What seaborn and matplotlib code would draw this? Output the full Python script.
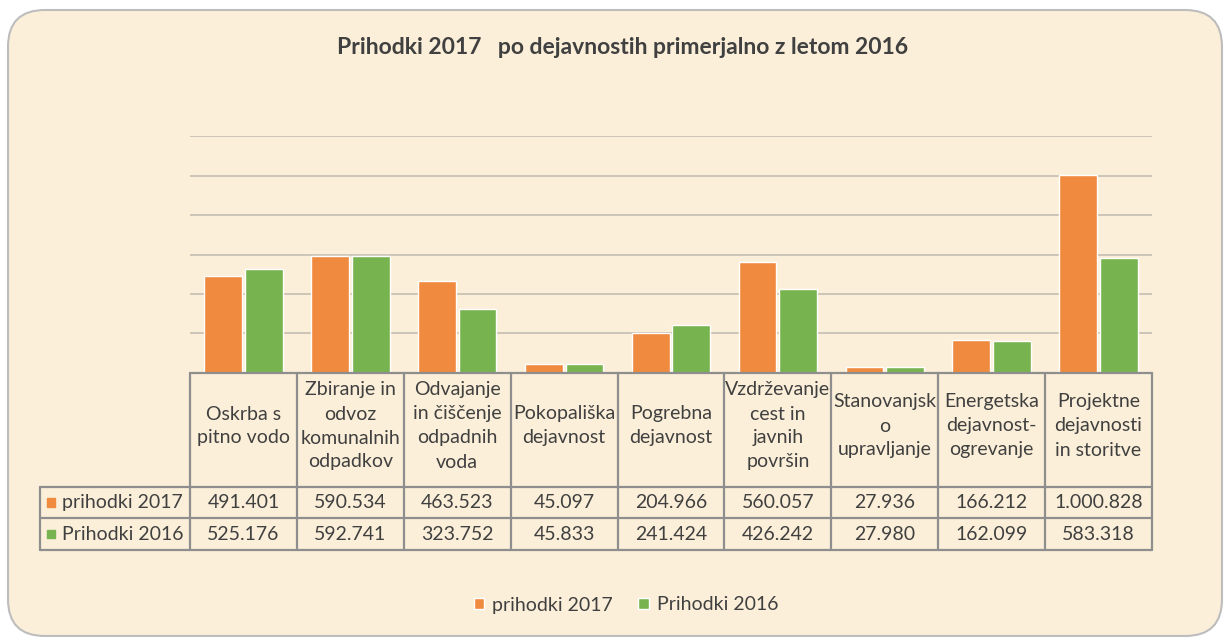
import numpy as np
import pandas as pd
import matplotlib
matplotlib.use("Agg")
import matplotlib.pyplot as plt
import seaborn as sns
from matplotlib.patches import FancyBboxPatch, Rectangle
from matplotlib.lines import Line2D
from matplotlib.transforms import blended_transform_factory

# ---------------- data ----------------
categories = [
    "Oskrba s\npitno vodo",
    "Zbiranje in\nodvoz\nkomunalnih\nodpadkov",
    "Odvajanje\nin čiščenje\nodpadnih\nvoda",
    "Pokopališka\ndejavnost",
    "Pogrebna\ndejavnost",
    "Vzdrževanje\ncest in\njavnih\npovršin",
    "Stanovanjsk\no\nupravljanje",
    "Energetska\ndejavnost-\nogrevanje",
    "Projektne\ndejavnosti\nin storitve",
]
series_names = ["prihodki 2017", "Prihodki 2016"]
values_2017 = [491401, 590534, 463523, 45097, 204966, 560057, 27936, 166212, 1000828]
values_2016 = [525176, 592741, 323752, 45833, 241424, 426242, 27980, 162099, 583318]
title = "Prihodki 2017   po dejavnostih primerjalno z letom 2016"

colors = ["#EF8A3F", "#77B450"]
text_color = "#404040"
bg = "#FBEFD9"

W, H = 1227, 637
fig = plt.figure(figsize=(W / 100, H / 100), dpi=100)
fig.patch.set_facecolor("white")

def fx(px):
    return px / W

def fy(py):
    return 1 - py / H

# chart area background with rounded border
frame = FancyBboxPatch((fx(8), fy(636)), fx(1214), fy(10) - fy(636),
                       boxstyle="round,pad=0,rounding_size=0.03",
                       transform=fig.transFigure, facecolor=bg,
                       edgecolor="#BDBDBD", linewidth=1.5, zorder=0,
                       mutation_aspect=W / H)
fig.add_artist(frame)

sns.set_style("white")
plt.rcParams["font.family"] = ["Lato", "DejaVu Sans"]

left, right, top, bottom = 190, 1152, 136, 373
ax = fig.add_axes([fx(left), fy(bottom), fx(right - left), fy(top) - fy(bottom)])
ax.set_facecolor("none")

df = pd.DataFrame({
    "cat": categories * 2,
    "val": values_2017 + values_2016,
    "series": [series_names[0]] * len(categories) + [series_names[1]] * len(categories),
})
sns.barplot(data=df, x="cat", y="val", hue="series", palette=colors,
            width=0.76, gap=0.07, ax=ax, saturation=1, zorder=2,
            legend=True)
ax.set_xlim(-0.5, len(categories) - 0.5)
ax.set_ylim(0, 1200000)
ax.set_yticks(np.arange(0, 1200001, 200000))
ax.yaxis.grid(True, color="#C9C1B5", linewidth=1.3, zorder=0)
ax.set_axisbelow(True)
ax.tick_params(left=False, bottom=False, labelleft=False, labelbottom=False)
ax.set_xlabel("")
ax.set_ylabel("")
for s in ax.spines.values():
    s.set_visible(False)

handles, labels = ax.get_legend_handles_labels()
ax.get_legend().remove()

# ---------------- data table ----------------
tr = blended_transform_factory(ax.transData, fig.transFigure)
grid_c = "#8E8E8E"
lw = 1.6
y_top, y_hdr, y_r1, y_r2 = 373, 487, 518, 550
xs = [i - 0.5 for i in range(len(categories) + 1)]

# horizontal lines
fig.add_artist(Line2D([xs[0], xs[-1]], [fy(y_top)] * 2, transform=tr, color=grid_c, lw=lw))
for yy in (y_hdr, y_r1, y_r2):
    fig.add_artist(Line2D([fx(40), fx(right)], [fy(yy)] * 2, transform=fig.transFigure, color=grid_c, lw=lw))
# vertical lines
for x in xs:
    fig.add_artist(Line2D([x, x], [fy(y_top), fy(y_r2)], transform=tr, color=grid_c, lw=lw))
fig.add_artist(Line2D([fx(40)] * 2, [fy(y_hdr), fy(y_r2)], transform=fig.transFigure, color=grid_c, lw=lw))

fs = 14
for i, c in enumerate(categories):
    fig.text(i, fy(426), c, transform=tr, ha="center", va="center",
             fontsize=fs, color=text_color, linespacing=1.5)

def fmt(v):
    return f"{v:,}".replace(",", ".")

for vals, yy in ((values_2017, (y_hdr + y_r1) / 2), (values_2016, (y_r1 + y_r2) / 2)):
    for i, v in enumerate(vals):
        fig.text(i, fy(yy), fmt(v), transform=tr, ha="center", va="center",
                 fontsize=fs, color=text_color)

for name, col, yy in ((series_names[0], colors[0], (y_hdr + y_r1) / 2),
                      (series_names[1], colors[1], (y_r1 + y_r2) / 2)):
    fig.add_artist(Rectangle((fx(47), fy(yy + 4)), fx(8), fy(yy - 4) - fy(yy + 4),
                             transform=fig.transFigure, color=col))
    fig.text(fx(62), fy(yy), name, ha="left", va="center", fontsize=fs, color=text_color)

# title
fig.text(fx(623), fy(48), title, ha="center", va="center", fontsize=16.5,
         fontweight="bold", color=text_color)

# legend
fig.legend(handles, labels, loc="center", bbox_to_anchor=(fx(626), fy(605)),
           ncol=2, frameon=False, fontsize=fs, handlelength=0.55, handleheight=0.55,
           handletextpad=0.4, columnspacing=1.3, labelcolor=text_color)

fig.savefig("out.png", dpi=100, facecolor=fig.get_facecolor())
